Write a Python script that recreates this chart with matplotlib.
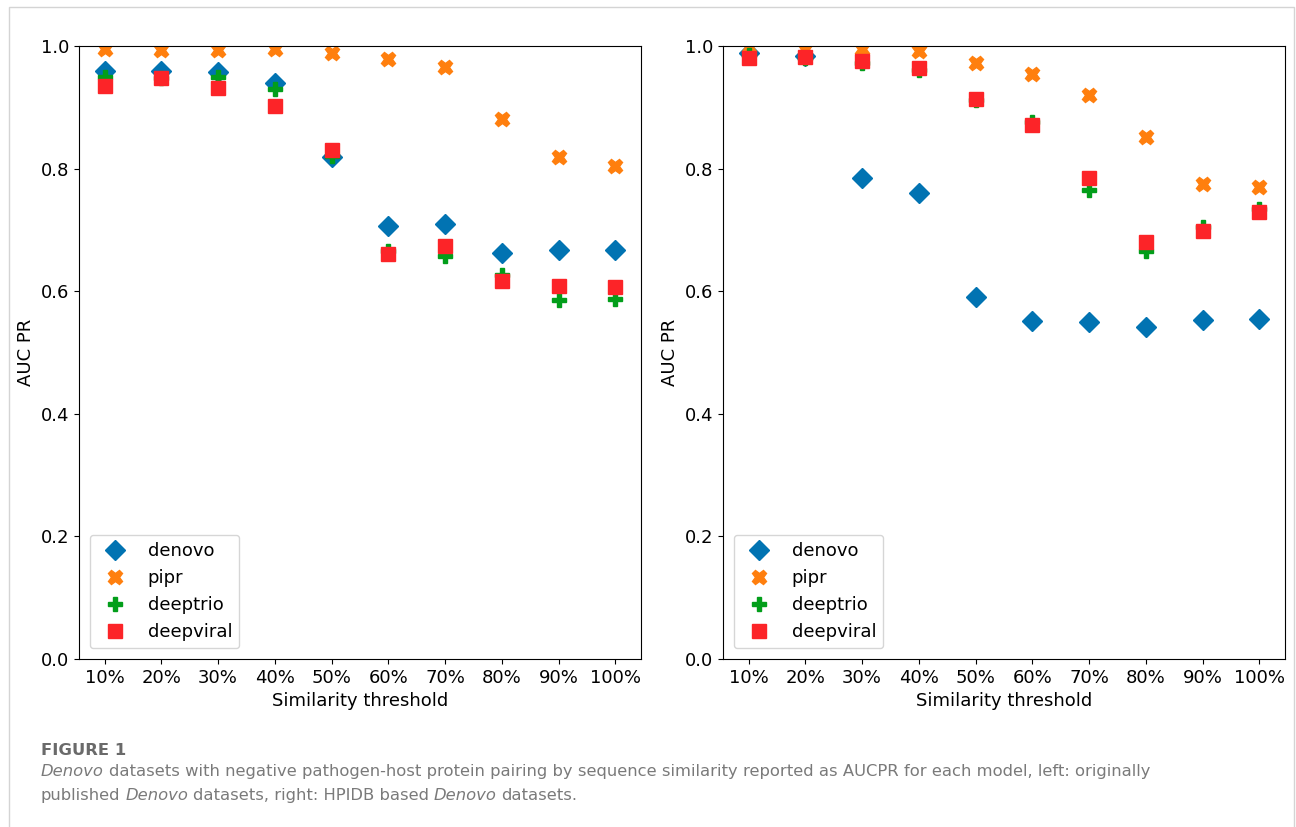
import matplotlib
matplotlib.use("Agg")
import matplotlib.pyplot as plt
from matplotlib.patches import Rectangle
from matplotlib.text import Annotation

plt.rcParams["font.family"] = ["DejaVu Sans"]

# similarity thresholds (x categories)
thresholds = ["10%", "20%", "30%", "40%", "50%", "60%", "70%", "80%", "90%", "100%"]

# left: originally published Denovo datasets
left_denovo    = [0.959, 0.960, 0.957, 0.939, 0.819, 0.707, 0.710, 0.663, 0.668, 0.668]
left_pipr      = [0.995, 0.994, 0.994, 0.995, 0.988, 0.979, 0.966, 0.881, 0.819, 0.804]
left_deeptrio  = [0.950, 0.948, 0.949, 0.930, 0.820, 0.666, 0.658, 0.627, 0.586, 0.588]
left_deepviral = [0.935, 0.947, 0.931, 0.902, 0.831, 0.660, 0.674, 0.617, 0.608, 0.607]

# right: HPIDB based Denovo datasets
right_denovo    = [0.988, 0.984, 0.785, 0.760, 0.591, 0.551, 0.550, 0.542, 0.553, 0.555]
right_pipr      = [0.998, 0.995, 0.995, 0.992, 0.973, 0.954, 0.920, 0.851, 0.775, 0.770]
right_deeptrio  = [0.985, 0.980, 0.972, 0.961, 0.912, 0.876, 0.765, 0.665, 0.704, 0.734]
right_deepviral = [0.981, 0.982, 0.975, 0.964, 0.913, 0.871, 0.785, 0.681, 0.698, 0.729]

models = ["denovo", "pipr", "deeptrio", "deepviral"]
markers = ["D", "X", "P", "s"]
colors = ["#0173B2", "#FF7F0E", "#029E1A", "#FC2428"]

fig = plt.figure(figsize=(12.96, 8.27), dpi=100)
W, H = 1296.0, 827.0

# light frame around the whole figure
fig.patches.append(Rectangle((9 / W, -0.05), (1294 - 9) / W, 1 - 7 / H + 0.05,
                             transform=fig.transFigure, fill=False,
                             ec="#d4d4d4", lw=1.0))

ax1 = fig.add_axes([79 / W, 1 - 659 / H, (641 - 79) / W, (659 - 46) / H])
ax2 = fig.add_axes([723 / W, 1 - 659 / H, (1285 - 723) / W, (659 - 46) / H])

panels = [(ax1, [left_denovo, left_pipr, left_deeptrio, left_deepviral]),
          (ax2, [right_denovo, right_pipr, right_deeptrio, right_deepviral])]

for ax, series in panels:
    for vals, name, m, c in zip(series, models, markers, colors):
        ax.plot(thresholds, vals, linestyle="none", marker=m, color=c,
                markersize=10.5, label=name)
    ax.set_ylim(0, 1.0)
    ax.set_yticks([0.0, 0.2, 0.4, 0.6, 0.8, 1.0])
    ax.tick_params(labelsize=13)
    ax.set_xlabel("Similarity threshold", fontsize=13)
    ax.set_ylabel("AUC PR", fontsize=13)
    ax.legend(loc="lower left", fontsize=13, borderaxespad=0.6)

# caption with mixed italic / regular runs
cap_kw = dict(fontsize=11.8, color="#7a7a7a", family="DejaVu Sans")
fig.text(41 / W, 1 - 755 / H, "FIGURE 1", fontsize=11.8, color="#6a6a6a",
         family="DejaVu Sans", weight="bold", va="baseline")


def rich_line(x, y, parts):
    sp = 3.4
    prev = fig.text(x, y, parts[0][0], style=parts[0][1], va="bottom", **cap_kw)
    for txt, st, gap in parts[1:]:
        a = Annotation(txt, xy=(1, 0), xycoords=prev, xytext=(sp if gap else 0, 0),
                       textcoords="offset points", va="bottom", ha="left",
                       style=st, **cap_kw)
        fig.add_artist(a)
        prev = a


rich_line(41 / W, 1 - 779 / H, [
    ("Denovo", "italic"),
    ("datasets with negative pathogen-host protein pairing by sequence similarity "
     "reported as AUCPR for each model, left: originally", "normal", True),
])
rich_line(41 / W, 1 - 803 / H, [
    ("published", "normal"),
    ("Denovo", "italic", True),
    ("datasets, right: HPIDB based", "normal", True),
    ("Denovo", "italic", True),
    ("datasets.", "normal", True),
])

fig.savefig("out.png", dpi=100)
